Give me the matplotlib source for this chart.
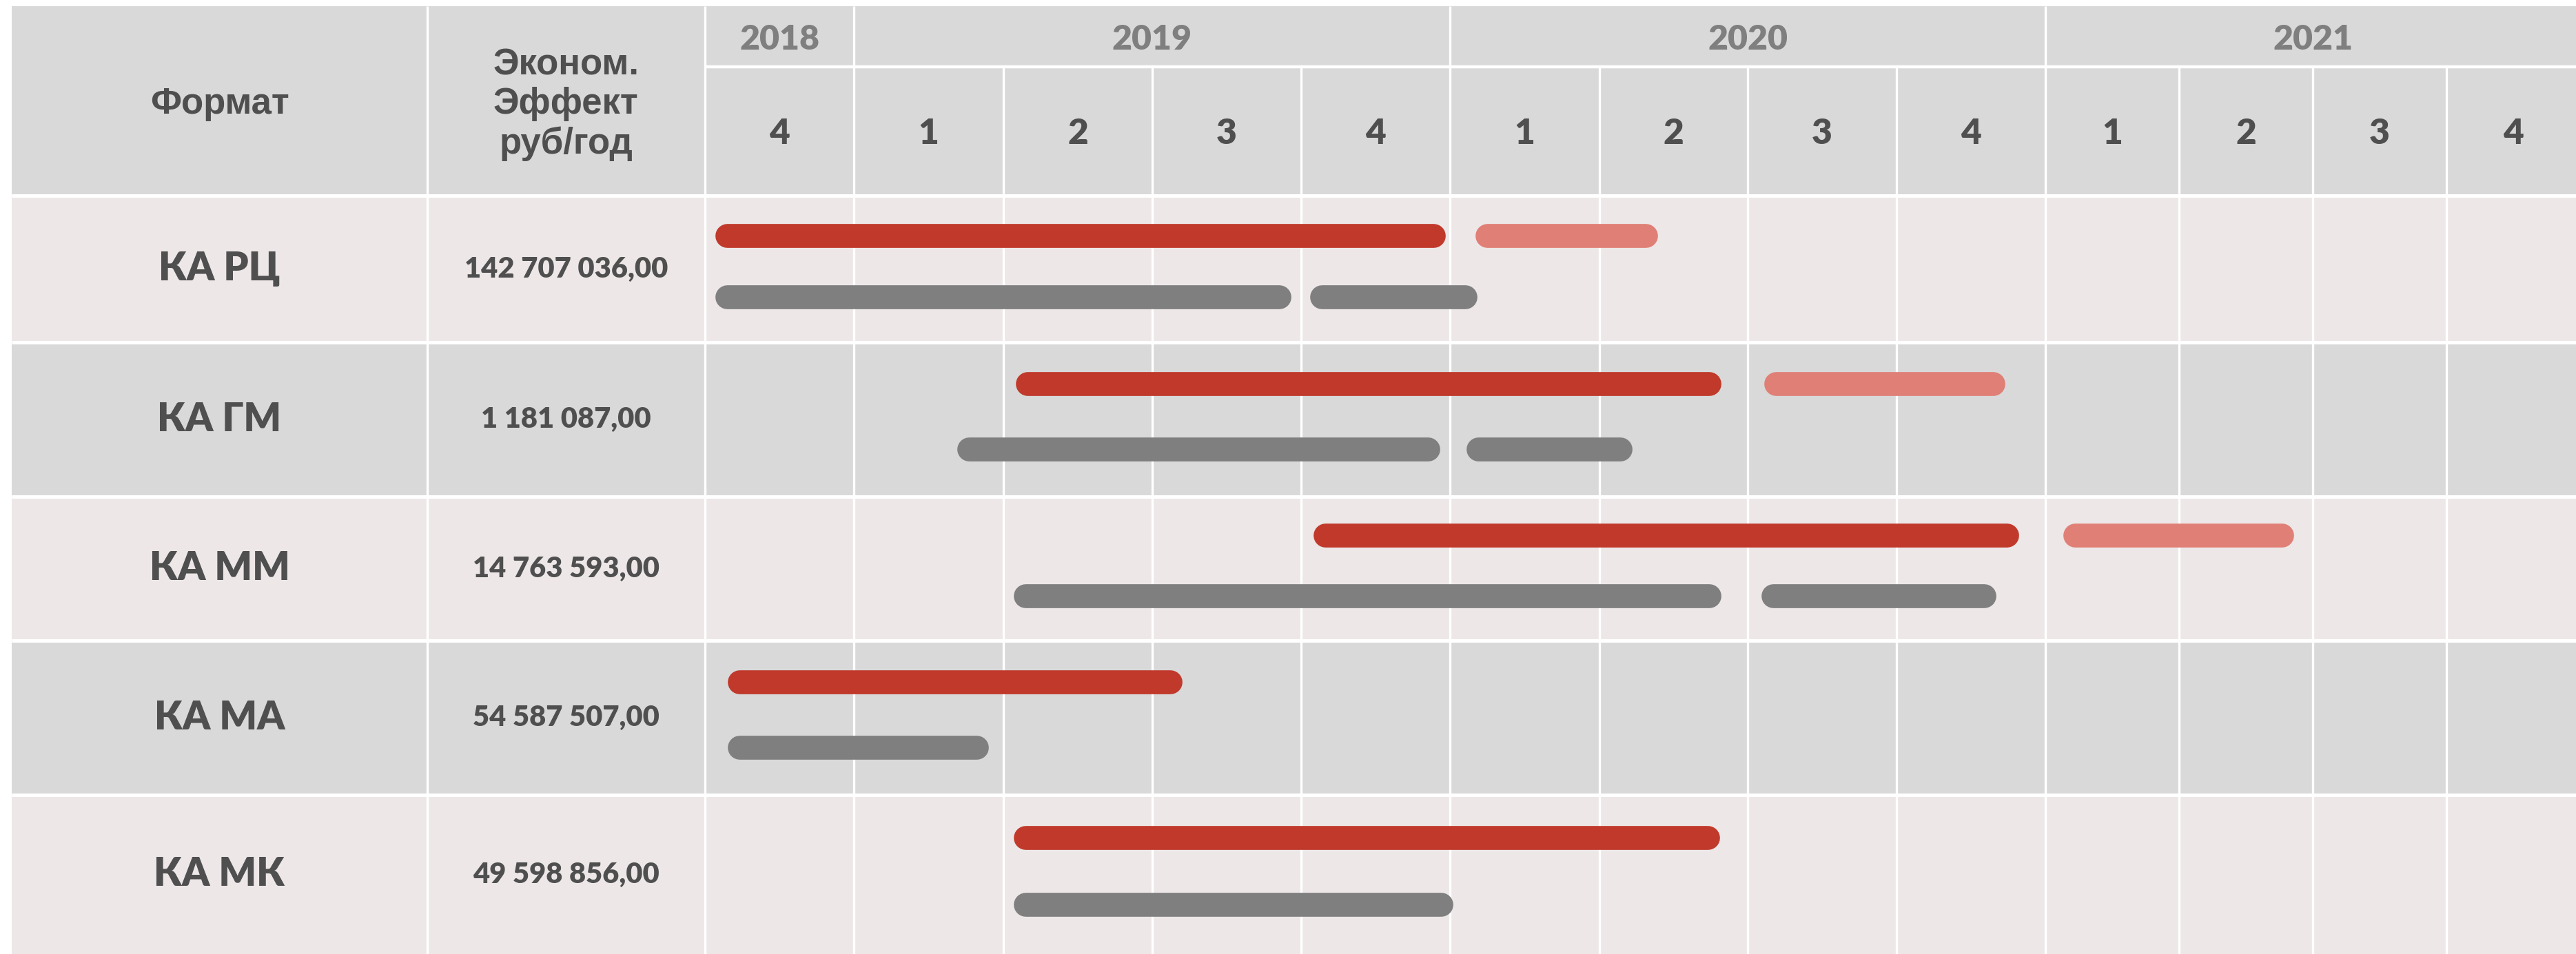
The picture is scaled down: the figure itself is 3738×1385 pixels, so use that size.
import numpy as np
import matplotlib.pyplot as plt

# Table contents
formats = ["КА РЦ", "КА ГМ", "КА ММ", "КА МА", "КА МК"]
effects = ["142 707 036,00", "1 181 087,00", "14 763 593,00", "54 587 507,00", "49 598 856,00"]
years = ["2018", "2019", "2020", "2021"]
year_quarters = [1, 4, 4, 4]
quarter_labels = ["4", "1", "2", "3", "4", "1", "2", "3", "4", "1", "2", "3", "4"]

# Bars in quarter units (0 = start of Q4 2018), (start, end)
plan = [(0.15, 4.89), (2.16, 6.74), (4.16, 8.74), (0.23, 3.12), (2.15, 6.73)]
plan_ext = [(5.25, 6.31), (7.19, 8.65), (9.22, 10.77), None, None]
fact = [(0.15, 3.85), (1.77, 4.85), (2.15, 6.74), (0.23, 1.82), (2.15, 4.94)]
fact_ext = [(4.14, 5.10), (5.19, 6.14), (7.17, 8.59), None, None]

# colours
c_plan = "#C0392B"
c_plan_ext = "#E07F76"
c_fact = "#7F7F7F"
c_head = "#D9D9D9"
c_light = "#EDE7E7"
c_text = "#4F4F4F"
c_year = "#7F7F7F"

# column / row edges of the table in pixels (the 2021 columns are narrower)
x_data = np.arange(-2, 14)
x_px = np.array([17, 620, 1023, 1239, 1456, 1672, 1888, 2104, 2321, 2536,
                 2752, 2968, 3162, 3356, 3550, 3744], dtype=float)
y_data = np.arange(-2, 6)
y_px = np.array([9, 97, 284, 497, 721, 930, 1154, 1385], dtype=float)

W, H, DPI = 3738, 1385, 200
fig = plt.figure(figsize=(W / DPI, H / DPI), dpi=DPI)
ax = fig.add_axes([17 / W, 0, (3744 - 17) / W, (1385 - 9) / H])

ax.set_xscale("function", functions=(lambda v: np.interp(v, x_data, x_px),
                                     lambda v: np.interp(v, x_px, x_data)))
ax.set_yscale("function", functions=(lambda v: np.interp(v, y_data, y_px),
                                     lambda v: np.interp(v, y_px, y_data)))
ax.set_xlim(-2, 13)
ax.set_ylim(5, -2)
ax.axis("off")

# backgrounds
ax.axhspan(-2, 0, color=c_head, lw=0)
for i in range(len(formats)):
    ax.axhspan(i, i + 1, color=c_light if i % 2 == 0 else c_head, lw=0)

# white grid
year_edges = np.concatenate([[0], np.cumsum(year_quarters)])
ax.vlines([-1, 0], -2, 5, color="white", lw=1.2)
ax.vlines(year_edges[1:-1], -2, 5, color="white", lw=1.2)
q_lines = [q for q in range(1, 13) if q not in year_edges]
ax.vlines(q_lines, -1, 5, color="white", lw=1.2)
ax.hlines(-1, 0, 13, color="white", lw=1.6)
ax.hlines(range(0, len(formats)), -2, 13, color="white", lw=1.8)

# header (merged cell spanning both header rows)
hdr_mid = np.interp((y_px[0] + y_px[2]) / 2 + 5, y_px, y_data)
ax.text(-1.5, hdr_mid, "Формат", ha="center", va="center", fontsize=19,
        fontweight="bold", color=c_text, family="Liberation Sans")
ax.text(-0.5, hdr_mid, "Эконом.\nЭффект\nруб/год", ha="center", va="center",
        fontsize=19, fontweight="bold", color=c_text, family="Liberation Sans",
        linespacing=1.18)
for k, yr in enumerate(years):
    ax.text((year_edges[k] + year_edges[k + 1]) / 2, -1.45, yr, ha="center",
            va="center", fontsize=18, fontweight="heavy", color=c_year,
            family=["Lato", "Roboto"])
for q, lab in enumerate(quarter_labels):
    ax.text(q + 0.5, -0.48, lab, ha="center", va="center", fontsize=18.5,
            fontweight="heavy", color=c_text, family=["Lato", "Roboto"])

# rows
for i, (name, eff) in enumerate(zip(formats, effects)):
    ax.text(-1.5, i + 0.5, name, ha="center", va="center", fontsize=20.5,
            fontweight="heavy", color=c_text, family=["Lato", "Roboto"])
    ax.text(-0.5, i + 0.5, eff, ha="center", va="center", fontsize=15,
            fontweight="heavy", color=c_text, family=["Lato", "Roboto"])

    bars = [(plan[i], c_plan, 0.27), (plan_ext[i], c_plan_ext, 0.27),
            (fact[i], c_fact, 0.69), (fact_ext[i], c_fact, 0.69)]
    for span, col, off in bars:
        if span is None:
            continue
        ax.plot(span, [i + off, i + off], color=col, lw=12.5,
                solid_capstyle="round")

fig.savefig("out.png", dpi=DPI)
